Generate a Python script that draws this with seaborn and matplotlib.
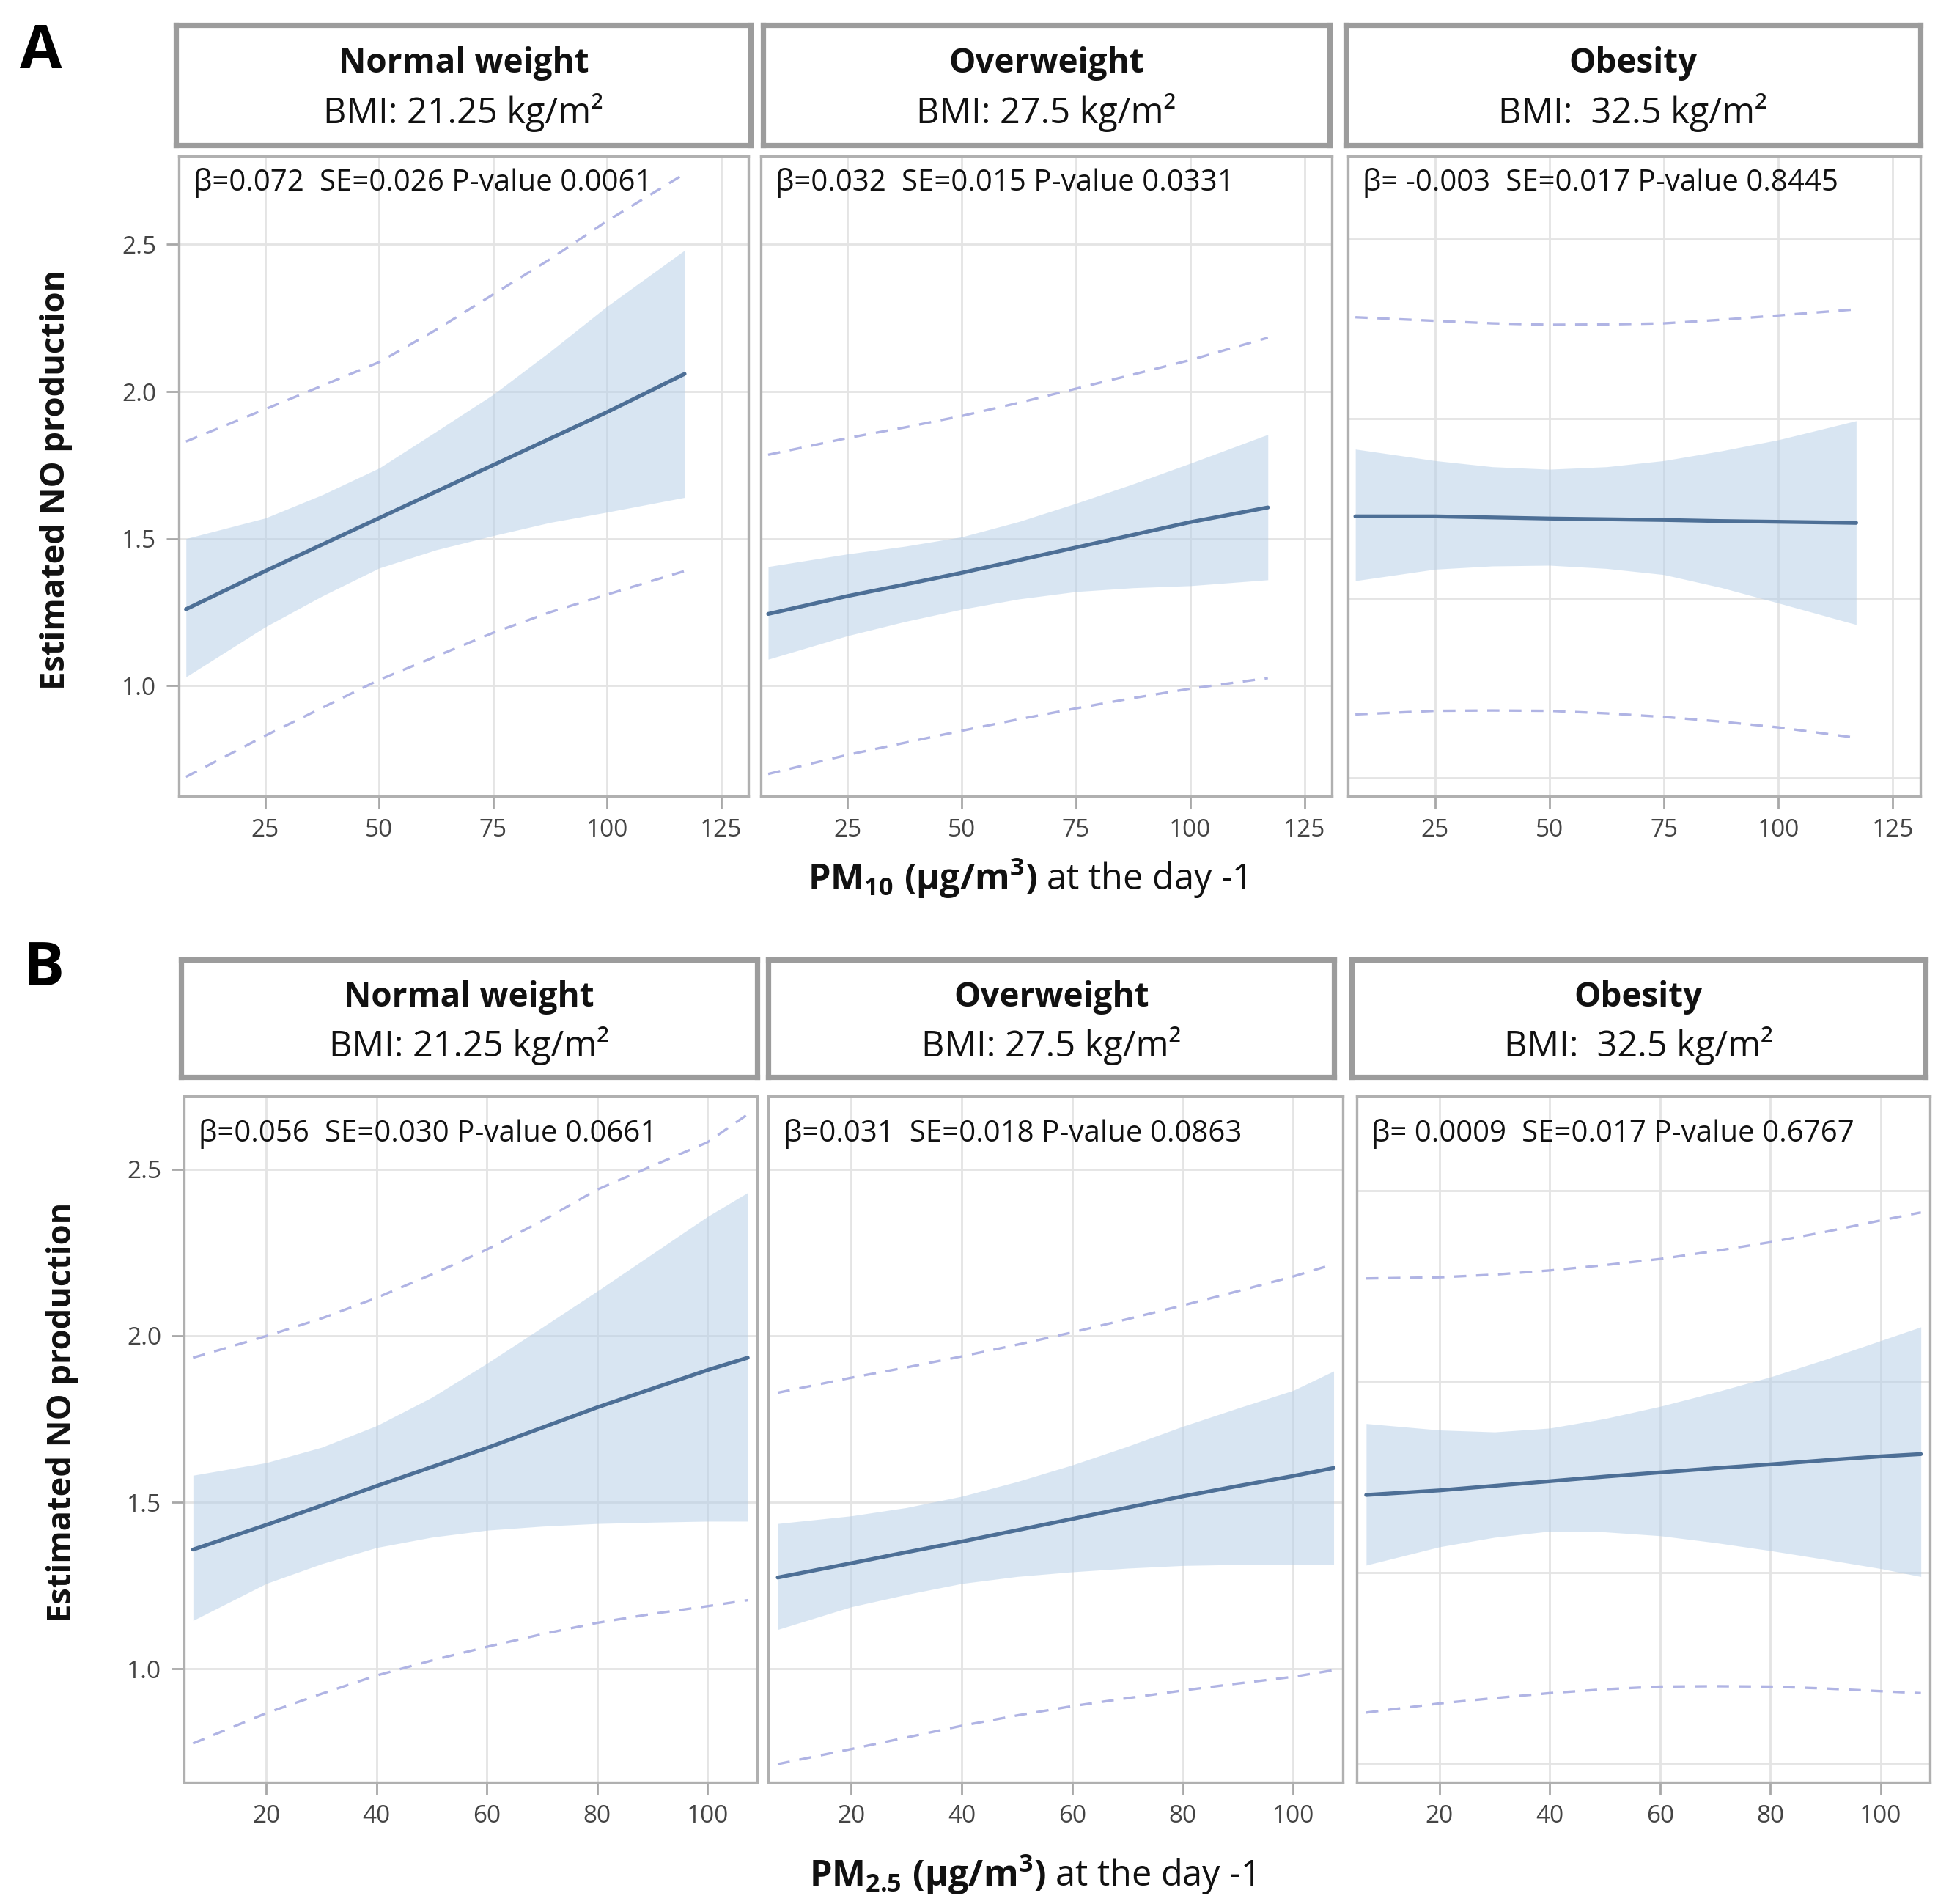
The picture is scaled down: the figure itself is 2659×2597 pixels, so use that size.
import numpy as np
import pandas as pd
import matplotlib
matplotlib.use("Agg")
import matplotlib.pyplot as plt
import seaborn as sns

# ---------------- data ----------------
groups = ["Normal weight", "Overweight", "Obesity"]
bmi_labels = ["BMI: 21.25 kg/m²", "BMI: 27.5 kg/m²", "BMI:  32.5 kg/m²"]

A_stats = ["β=0.072  SE=0.026 P-value 0.0061",
           "β=0.032  SE=0.015 P-value 0.0331",
           "β= -0.003  SE=0.017 P-value 0.8445"]
B_stats = ["β=0.056  SE=0.030 P-value 0.0661",
           "β=0.031  SE=0.018 P-value 0.0863",
           "β= 0.0009  SE=0.017 P-value 0.6767"]

# Panel A: PM10 at day -1
A_x = [7.6, 25, 37.5, 50, 62.5, 75, 87.5, 100, 117]
A1_est = [1.26, 1.39, 1.48, 1.57, 1.66, 1.75, 1.84, 1.93, 2.06]
A1_lo = [1.03, 1.20, 1.305, 1.40, 1.462, 1.51, 1.555, 1.59, 1.64]
A1_hi = [1.50, 1.57, 1.649, 1.74, 1.864, 1.99, 2.136, 2.29, 2.48]
A1_plo = [0.69, 0.83, 0.925, 1.02, 1.10, 1.18, 1.25, 1.31, 1.39]
A1_phi = [1.83, 1.94, 2.02, 2.10, 2.21, 2.33, 2.45, 2.58, 2.74]

A2_est = [1.244, 1.305, 1.344, 1.384, 1.427, 1.47, 1.513, 1.556, 1.606]
A2_lo = [1.09, 1.17, 1.218, 1.26, 1.295, 1.32, 1.333, 1.34, 1.36]
A2_hi = [1.405, 1.448, 1.474, 1.506, 1.558, 1.62, 1.686, 1.756, 1.854]
A2_plo = [0.70, 0.765, 0.806, 0.847, 0.886, 0.923, 0.958, 0.99, 1.026]
A2_phi = [1.785, 1.842, 1.878, 1.917, 1.962, 2.01, 2.058, 2.107, 2.183]

A3_est = [1.728, 1.728, 1.725, 1.722, 1.72, 1.718, 1.715, 1.713, 1.71]
A3_lo = [1.549, 1.581, 1.59, 1.592, 1.583, 1.566, 1.53, 1.487, 1.427]
A3_hi = [1.915, 1.883, 1.866, 1.859, 1.866, 1.883, 1.91, 1.941, 1.994]
A3_plo = [1.177, 1.187, 1.188, 1.187, 1.18, 1.17, 1.157, 1.141, 1.112]
A3_phi = [2.282, 2.272, 2.265, 2.261, 2.262, 2.265, 2.275, 2.287, 2.304]

# Panel B: PM2.5 at day -1
B_x = [6.7, 20, 30, 40, 50, 60, 70, 80, 90, 100, 107.3]
B1_est = [1.358, 1.432, 1.49, 1.549, 1.606, 1.663, 1.724, 1.785, 1.841, 1.897, 1.934]
B1_lo = [1.145, 1.256, 1.315, 1.364, 1.395, 1.416, 1.428, 1.436, 1.44, 1.443, 1.443]
B1_hi = [1.581, 1.619, 1.665, 1.73, 1.815, 1.917, 2.025, 2.134, 2.246, 2.358, 2.43]
B1_plo = [0.776, 0.867, 0.925, 0.98, 1.025, 1.066, 1.104, 1.138, 1.165, 1.188, 1.206]
B1_phi = [1.934, 1.999, 2.052, 2.114, 2.184, 2.259, 2.345, 2.439, 2.51, 2.581, 2.665]

B2_est = [1.274, 1.317, 1.35, 1.382, 1.416, 1.45, 1.484, 1.518, 1.549, 1.579, 1.603]
B2_lo = [1.118, 1.186, 1.223, 1.256, 1.277, 1.291, 1.302, 1.31, 1.313, 1.314, 1.314]
B2_hi = [1.436, 1.459, 1.484, 1.518, 1.562, 1.612, 1.668, 1.728, 1.783, 1.836, 1.894]
B2_plo = [0.714, 0.759, 0.794, 0.829, 0.86, 0.888, 0.912, 0.935, 0.956, 0.976, 0.996]
B2_phi = [1.829, 1.874, 1.905, 1.938, 1.973, 2.01, 2.05, 2.091, 2.134, 2.178, 2.215]

B3_est = [1.703, 1.715, 1.727, 1.739, 1.751, 1.762, 1.773, 1.783, 1.794, 1.804, 1.81]
B3_lo = [1.519, 1.567, 1.592, 1.608, 1.606, 1.596, 1.578, 1.557, 1.534, 1.51, 1.489]
B3_hi = [1.89, 1.873, 1.868, 1.878, 1.903, 1.935, 1.972, 2.012, 2.058, 2.107, 2.143]
B3_plo = [1.133, 1.157, 1.171, 1.184, 1.194, 1.201, 1.202, 1.201, 1.196, 1.189, 1.184]
B3_phi = [2.27, 2.273, 2.28, 2.291, 2.305, 2.321, 2.342, 2.365, 2.392, 2.422, 2.443]

A_xticks = [25, 50, 75, 100, 125]
B_xticks = [20, 40, 60, 80, 100]
y_ticks = [1.0, 1.5, 2.0, 2.5]
y_ticklabels = ["1.0", "1.5", "2.0", "2.5"]

# ---------------- style ----------------
sns.set_theme(style="white")
plt.rcParams["font.family"] = ["Open Sans", "DejaVu Sans"]
plt.rcParams["mathtext.fontset"] = "custom"
plt.rcParams["mathtext.rm"] = "Open Sans"
plt.rcParams["mathtext.bf"] = "Open Sans:bold"
plt.rcParams["mathtext.it"] = "Open Sans:italic"

BAND = "#b3cde7"
LINE = "#4d6f96"
DASH = "#b0b4e4"
GRID = "#e4e4e4"
FRAME = "#b0b0b0"
STRIP_EDGE = "#9c9c9c"

fig = plt.figure(figsize=(2659 / 200, 2597 / 200), dpi=200)
fig.patch.set_facecolor("white")
DW, DH = 1560.0, 1523.6


def rect(x0, y0, x1, y1):
    return [x0 / DW, 1 - y1 / DH, (x1 - x0) / DW, (y1 - y0) / DH]


A_axes = [(143, 125, 599, 637), (609, 125, 1066, 637), (1079, 125, 1537, 637)]
A_strips = [(141, 20, 601, 116), (611, 20, 1064, 116), (1077, 20, 1537, 116)]
B_axes = [(147, 877, 606, 1426), (615, 877, 1075, 1426), (1086, 877, 1545, 1426)]
B_strips = [(145, 768, 606, 862), (615, 768, 1068, 862), (1082, 768, 1541, 862)]

A_series = [(A1_est, A1_lo, A1_hi, A1_plo, A1_phi),
            (A2_est, A2_lo, A2_hi, A2_plo, A2_phi),
            (A3_est, A3_lo, A3_hi, A3_plo, A3_phi)]
B_series = [(B1_est, B1_lo, B1_hi, B1_plo, B1_phi),
            (B2_est, B2_lo, B2_hi, B2_plo, B2_phi),
            (B3_est, B3_lo, B3_hi, B3_plo, B3_phi)]

A_ylims = [(0.625, 2.80), (0.625, 2.80), (0.95, 2.73)]
B_ylims = [(0.66, 2.72), (0.66, 2.72), (0.951, 2.748)]


def draw_strip(r, title, sub):
    s = fig.add_axes(rect(*r))
    s.set_xticks([])
    s.set_yticks([])
    s.set_facecolor("white")
    for sp in s.spines.values():
        sp.set_color(STRIP_EDGE)
        sp.set_linewidth(2.6)
        sp.set_visible(True)
    s.text(0.5, 0.68, title, transform=s.transAxes, ha="center", va="center",
           fontsize=16.5, fontweight="bold", color="#111111")
    s.text(0.5, 0.27, sub, transform=s.transAxes, ha="center", va="center",
           fontsize=17.5, color="#111111")


def draw_panel(r, xs, ser, xlim, ylim, xticks, stat, show_y, text_y):
    est, lo, hi, plo, phi = ser
    df = pd.DataFrame({"x": xs, "est": est, "lo": lo, "hi": hi,
                       "plo": plo, "phi": phi})
    ax = fig.add_axes(rect(*r))
    ax.set_facecolor("white")
    ax.set_axisbelow(True)
    ax.grid(True, color=GRID, lw=1.0)
    ax.fill_between(df["x"], df["lo"], df["hi"], color=BAND, alpha=0.5, lw=0)
    sns.lineplot(data=df, x="x", y="plo", ax=ax, color=DASH, lw=1.2,
                 linestyle=(0, (5, 4)))
    sns.lineplot(data=df, x="x", y="phi", ax=ax, color=DASH, lw=1.2,
                 linestyle=(0, (5, 4)))
    sns.lineplot(data=df, x="x", y="est", ax=ax, color=LINE, lw=1.9)
    ax.set_xlim(*xlim)
    ax.set_ylim(*ylim)
    ax.set_xticks(xticks)
    ax.set_xticklabels([str(t) for t in xticks])
    ax.set_yticks(y_ticks)
    ax.set_xlabel("")
    ax.set_ylabel("")
    for sp in ax.spines.values():
        sp.set_color(FRAME)
        sp.set_linewidth(1.2)
        sp.set_visible(True)
    ax.tick_params(axis="x", direction="out", length=6, width=1.0,
                   color="#a8a8a8", labelsize=12, labelcolor="#444444",
                   pad=5, bottom=True)
    if show_y:
        ax.set_yticklabels(y_ticklabels)
        ax.tick_params(axis="y", direction="out", length=6, width=1.0,
                       color="#a8a8a8", labelsize=12, labelcolor="#444444",
                       pad=5, left=True)
    else:
        ax.set_yticklabels([])
        ax.tick_params(axis="y", length=0, left=False)
    ax.text(0.026, text_y, stat, transform=ax.transAxes, ha="left",
            va="center", fontsize=14.5, color="#111111")
    return ax


for i in range(3):
    draw_strip(A_strips[i], groups[i], bmi_labels[i])
    draw_panel(A_axes[i], A_x, A_series[i], (6, 131), A_ylims[i], A_xticks,
               A_stats[i], i == 0, 0.958)
    draw_strip(B_strips[i], groups[i], bmi_labels[i])
    draw_panel(B_axes[i], B_x, B_series[i], (5, 109), B_ylims[i], B_xticks,
               B_stats[i], i == 0, 0.945)

# Axis titles
fig.text(822 / DW, 1 - 703 / DH,
         r"$\mathbf{PM_{10}\ (µg/m^{3})}$ at the day -1",
         ha="center", va="center", fontsize=17.5, color="#111111")
fig.text(826 / DW, 1 - 1500 / DH,
         r"$\mathbf{PM_{2.5}\ (µg/m^{3})}$ at the day -1",
         ha="center", va="center", fontsize=17.5, color="#111111")
fig.text(45 / DW, 1 - 384 / DH, "Estimated NO production", rotation=90,
         ha="center", va="center", fontsize=16.3, fontweight="bold",
         color="#111111")
fig.text(50 / DW, 1 - 1130 / DH, "Estimated NO production", rotation=90,
         ha="center", va="center", fontsize=16.3, fontweight="bold",
         color="#111111")

# Panel letters
fig.text(33 / DW, 1 - 42 / DH, "A", ha="center", va="center",
         fontsize=30, fontweight="bold", color="#000000")
fig.text(35 / DW, 1 - 776 / DH, "B", ha="center", va="center",
         fontsize=30, fontweight="bold", color="#000000")

fig.savefig("out.png", dpi=200, facecolor="white")
